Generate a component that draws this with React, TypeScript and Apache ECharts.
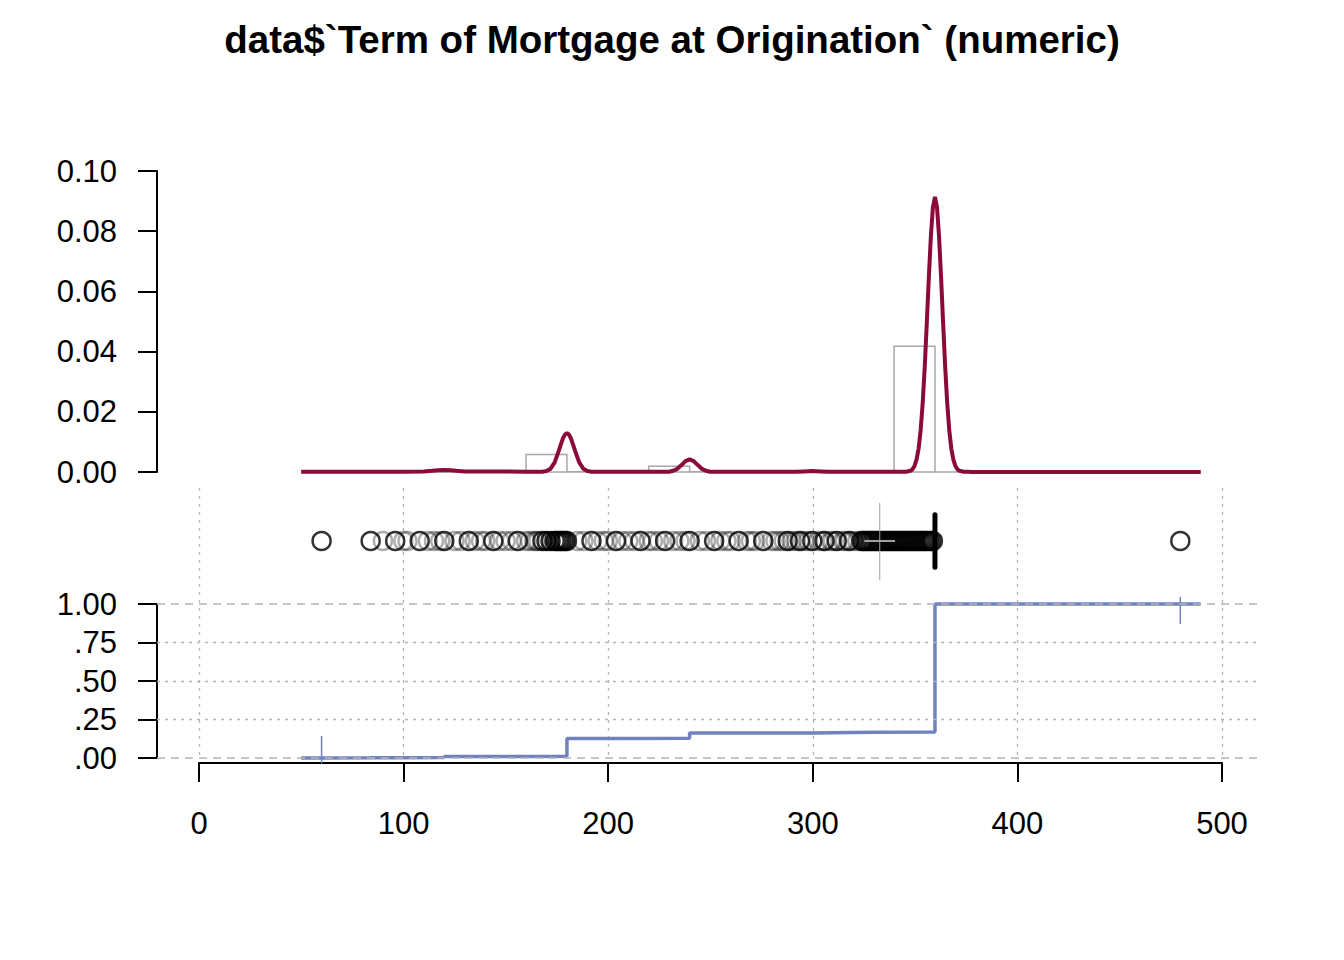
import React, { useEffect, useRef } from "react";
import * as echarts from "echarts";

const TITLE = "data$`Term of Mortgage at Origination` (numeric)";
const FONT = "Liberation Sans, Arial, Helvetica, sans-serif";

const X_MIN = -20.5;
const X_MAX = 518;
const xTickValues = [0, 100, 200, 300, 400, 500];

// histogram (density scale), bins of width 20
const binStarts = [60, 80, 100, 120, 140, 160, 180, 200, 220, 240, 260, 280, 300, 320, 340, 360, 380, 400, 420, 440, 460];
const binEnds = [80, 100, 120, 140, 160, 180, 200, 220, 240, 260, 280, 300, 320, 340, 360, 380, 400, 420, 440, 460, 480];
const histHeights = [0.0001, 0.0001, 0.0003, 0.0001, 0.0002, 0.0058, 0.0001, 0.0001, 0.0019, 0.0001, 0.0001, 0.0002, 0.0002, 0.0003, 0.0418, 0, 0, 0, 0, 0, 0.00002];

// kernel density curve
const densityX = [50, 100, 110, 114, 117, 120, 123, 126, 130, 160, 166, 168, 170, 172, 174, 176, 177, 178, 179, 180, 181, 182, 183, 184, 186, 188, 190, 192, 196, 220, 228, 230, 232, 234, 236, 238, 240, 242, 244, 246, 248, 250, 252, 256, 280, 292, 296, 300, 304, 308, 330, 342, 344, 346, 348, 349, 350, 351, 352, 353, 354, 355, 356, 357, 358, 359, 360, 361, 362, 363, 364, 365, 366, 367, 368, 369, 370, 371, 372, 374, 376, 378, 400, 490];
const densityY = [0.00005, 0.0001, 0.0002, 0.0004, 0.0006, 0.0007, 0.0006, 0.0004, 0.0002, 0.0001, 0.0001, 0.0001, 0.0003, 0.0011, 0.0032, 0.007, 0.0091, 0.0111, 0.0124, 0.0129, 0.0124, 0.0111, 0.0091, 0.007, 0.0032, 0.0011, 0.0003, 0.0001, 0.0001, 0.0001, 0.0001, 0.0001, 0.0004, 0.00105, 0.0023, 0.0036, 0.0042, 0.0036, 0.0023, 0.00105, 0.0004, 0.0001, 0.0001, 0.0001, 0.0001, 0.0001, 0.0002, 0.0003, 0.0002, 0.0001, 0.0001, 0.0001, 0.0001, 0.0001, 0.0004, 0.0009, 0.002, 0.0041, 0.0078, 0.0139, 0.0229, 0.0349, 0.0494, 0.0646, 0.0783, 0.088, 0.0914, 0.088, 0.0783, 0.0646, 0.0494, 0.0349, 0.0229, 0.0139, 0.0078, 0.0041, 0.002, 0.0009, 0.0004, 0.0001, 0.00005, 0, 0, 0];

// box plot outliers (IQR = 0, so every value other than 360)
const blackOutliers = [60, 84, 96, 108, 120, 132, 144, 156, 168, 170, 172, 174, 175, 176, 177, 178, 179, 180, 192, 204, 216, 228, 240, 252, 264, 276, 288, 294, 300, 306, 312, 318, 324, 325, 326, 327, 328, 329, 330, 331, 332, 333, 334, 335, 336, 337, 338, 339, 340, 341, 342, 343, 344, 345, 346, 347, 348, 349, 350, 351, 352, 353, 354, 355, 356, 357, 358, 359, 480];
const grayOutliers = [90, 100, 102, 112, 115, 118, 125, 128, 135, 138, 140, 147, 150, 153, 160, 162, 164, 165, 166, 185, 188, 195, 198, 200, 207, 210, 213, 220, 222, 225, 232, 235, 238, 245, 248, 255, 258, 260, 268, 270, 272, 280, 282, 284, 286, 290, 292, 296, 298, 303, 305, 309, 310, 315, 316, 320, 322];
const meanValue = 333;
const medianValue = 360;
const minValue = 60;
const maxValue = 480;

// empirical CDF steps
const ecdfX = [50, 60, 84, 96, 120, 150, 180, 210, 240, 300, 330, 360, 480, 490];
const ecdfY = [0, 0.001, 0.002, 0.003, 0.01, 0.012, 0.127, 0.128, 0.163, 0.167, 0.169, 1, 1, 1];
const ecdfTicks = [0, 0.25, 0.5, 0.75, 1];

const RED = "#8B0A3A";
const BLUE = "#7083BF";
const GRID_GRAY = "#B4B4B4";

export default function App() {
  const ref = useRef<HTMLDivElement>(null);
  useEffect(() => {
    const chart = echarts.init(ref.current!, null, { renderer: "svg" });
    const axisLine = { show: true, onZero: false, lineStyle: { color: "#000", width: 2 } };
    const axisTick = { show: true, length: 19, lineStyle: { color: "#000", width: 2 } };
    const label = { color: "#000", fontSize: 31, fontFamily: FONT };
    const hiddenX = (g: number) => ({ gridIndex: g, type: "value", min: X_MIN, max: X_MAX, show: false });

    const option: any = {
      animation: false,
      backgroundColor: "#fff",
      title: {
        text: TITLE,
        left: "center",
        top: 15,
        textStyle: { fontFamily: FONT, fontSize: 38.5, fontWeight: "bold", color: "#000" },
      },
      grid: [
        { left: 157, top: 171, width: 1101, height: 301 },
        { left: 157, top: 500, width: 1101, height: 82 },
        { left: 157, top: 604, width: 1101, height: 154 },
        { left: 199, top: 488, width: 1023, height: 270 },
      ],
      xAxis: [
        hiddenX(0),
        hiddenX(1),
        hiddenX(2),
        {
          gridIndex: 3,
          type: "value",
          min: xTickValues[0],
          max: xTickValues[xTickValues.length - 1],
          interval: 100,
          offset: 5,
          axisLine,
          axisTick,
          axisLabel: { ...label, margin: 45 },
          splitLine: { show: true, lineStyle: { color: GRID_GRAY, type: [3, 5], width: 1.3 } },
        },
      ],
      yAxis: [
        {
          gridIndex: 0,
          type: "value",
          min: 0,
          max: 0.1,
          interval: 0.02,
          axisLine,
          axisTick,
          axisLabel: { ...label, margin: 40, formatter: (v: number) => v.toFixed(2) },
          splitLine: { show: false },
        },
        { gridIndex: 1, type: "value", min: -1, max: 1, show: false },
        {
          gridIndex: 2,
          type: "value",
          min: 0,
          max: 1,
          interval: 0.25,
          axisLine,
          axisTick,
          axisLabel: {
            ...label,
            margin: 40,
            formatter: (v: number) => (v >= 1 ? v.toFixed(2) : "." + v.toFixed(2).slice(2)),
          },
          splitLine: { show: false },
        },
        { gridIndex: 3, type: "value", min: 0, max: 1, show: false },
      ],
      series: [
        {
          type: "custom",
          xAxisIndex: 0,
          yAxisIndex: 0,
          silent: true,
          data: binStarts.map((b, i) => [b, binEnds[i], histHeights[i]]),
          encode: { x: [0, 1], y: 2 },
          renderItem: (params: any, api: any) => {
            const tl = api.coord([api.value(0), api.value(2)]);
            const br = api.coord([api.value(1), 0]);
            return {
              type: "rect",
              shape: { x: tl[0], y: tl[1], width: br[0] - tl[0], height: br[1] - tl[1] },
              style: { fill: "none", stroke: "#A8A8A8", lineWidth: 1.5 },
            };
          },
        },
        {
          type: "line",
          xAxisIndex: 0,
          yAxisIndex: 0,
          data: densityX.map((x, i) => [x, densityY[i]]),
          showSymbol: false,
          lineStyle: { color: RED, width: 4 },
          silent: true,
        },
        {
          type: "scatter",
          xAxisIndex: 1,
          yAxisIndex: 1,
          data: grayOutliers.map((v) => [v, 0]),
          symbol: "circle",
          symbolSize: 18,
          itemStyle: { color: "rgba(0,0,0,0)", borderColor: "rgba(0,0,0,0.4)", borderWidth: 2.5 },
          silent: true,
        },
        {
          type: "scatter",
          xAxisIndex: 1,
          yAxisIndex: 1,
          data: blackOutliers.map((v) => [v, 0]),
          symbol: "circle",
          symbolSize: 18,
          itemStyle: { color: "rgba(0,0,0,0)", borderColor: "#000", borderWidth: 2.5 },
          silent: true,
        },
        {
          type: "line",
          xAxisIndex: 1,
          yAxisIndex: 1,
          data: [[meanValue, -0.95], [meanValue, 0.93]],
          showSymbol: false,
          clip: false,
          lineStyle: { color: "#A0A0A0", width: 1 },
          silent: true,
        },
        {
          type: "line",
          xAxisIndex: 1,
          yAxisIndex: 1,
          data: [[meanValue - 7.5, 0], [meanValue + 7.5, 0]],
          showSymbol: false,
          clip: false,
          lineStyle: { color: "#A0A0A0", width: 2 },
          silent: true,
        },
        {
          type: "line",
          xAxisIndex: 1,
          yAxisIndex: 1,
          data: [[medianValue, -0.64], [medianValue, 0.64]],
          showSymbol: false,
          clip: false,
          lineStyle: { color: "#000", width: 5, cap: "round" },
          silent: true,
        },
        {
          type: "line",
          xAxisIndex: 2,
          yAxisIndex: 2,
          data: ecdfX.map((x, i) => [x, ecdfY[i]]),
          step: "end",
          showSymbol: false,
          clip: false,
          lineStyle: { color: BLUE, width: 3.5 },
          silent: true,
          markLine: {
            silent: true,
            symbol: ["none", "none"],
            label: { show: false },
            data: ecdfTicks.map((t) => ({
              yAxis: t,
              lineStyle:
                t === 0 || t === 1
                  ? { color: GRID_GRAY, type: [8, 6], width: 1.5 }
                  : { color: GRID_GRAY, type: [3, 5], width: 1.3 },
            })),
          },
        },
        {
          type: "line",
          xAxisIndex: 2,
          yAxisIndex: 2,
          data: [[minValue, -0.035], [minValue, 0.143]],
          showSymbol: false,
          clip: false,
          lineStyle: { color: BLUE, width: 1.5 },
          silent: true,
        },
        {
          type: "line",
          xAxisIndex: 2,
          yAxisIndex: 2,
          data: [[maxValue, 0.87], [maxValue, 1.045]],
          showSymbol: false,
          clip: false,
          lineStyle: { color: BLUE, width: 1.5 },
          silent: true,
        },
      ],
    };
    chart.setOption(option);
    return () => chart.dispose();
  }, []);
  return <div ref={ref} style={{ position: "fixed", left: 0, top: 0, width: 1344, height: 960 }} />;
}
